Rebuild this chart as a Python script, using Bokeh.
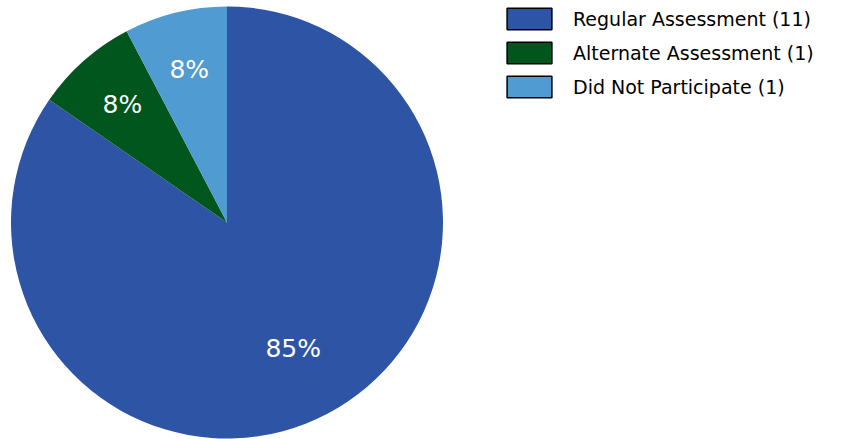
import math
from bokeh.plotting import figure
from bokeh.models import Range1d, ColumnDataSource, Legend, LegendItem
from bokeh.core.properties import value
from bokeh.embed import file_html
from bokeh.resources import INLINE

# ---- data ----
categories = ["Regular Assessment", "Alternate Assessment", "Did Not Participate"]
counts = [11, 1, 1]
colors = ["#2E54A5", "#00561C", "#519BD3"]

# ---- layout constants (pixels) ----
W, H = 848, 439
CX, CY = 226.5, H - 222.0
R = 216.0
label_frac = [0.66, 0.73, 0.73]

total = sum(counts)
starts, ends, mids, pcts = [], [], [], []
cum = 0
for c in counts:
    a0 = math.pi / 2 - 2 * math.pi * cum / total
    cum += c
    a1 = math.pi / 2 - 2 * math.pi * cum / total
    starts.append(a0)
    ends.append(a1)
    mids.append((a0 + a1) / 2)
    pcts.append(f"{round(100 * c / total)}%")

lx = [CX + f * R * math.cos(m) for f, m in zip(label_frac, mids)]
ly = [CY + f * R * math.sin(m) for f, m in zip(label_frac, mids)]

src = ColumnDataSource(dict(x=[CX] * len(counts), y=[CY] * len(counts),
                            start=starts, end=ends, color=colors))
lsrc = ColumnDataSource(dict(x=lx, y=ly, text=pcts))

p = figure(width=W, height=H, output_backend="svg", toolbar_location=None,
           x_range=Range1d(0, W), y_range=Range1d(0, H),
           min_border=0, outline_line_color=None)
p.margin = (0, 0, 0, 0)
p.axis.visible = False
p.grid.visible = False
p.background_fill_color = "white"
p.border_fill_color = "white"

p.wedge(x="x", y="y", radius=R, start_angle="start", end_angle="end",
        direction="clock", fill_color="color", line_color=None, source=src)

p.text(x="x", y="y", text="text", source=lsrc, text_color="white",
       text_font=value("DejaVu Sans"), text_font_size="25px",
       text_align="center", text_baseline="middle")

items = []
nan = float("nan")
for cat, cnt, col in zip(categories, counts, colors):
    r = p.rect(x=[nan], y=[nan], width=1, height=1, fill_color=col,
               line_color="black", line_width=1.5)
    items.append(LegendItem(label=f"{cat} ({cnt})", renderers=[r]))

legend = Legend(items=items, location=(501, 339), orientation="vertical",
                glyph_width=56, glyph_height=27, spacing=7, label_standoff=16,
                padding=0, margin=0, border_line_color=None,
                background_fill_alpha=0,
                label_text_font="DejaVu Sans", label_text_font_size="19px",
                label_text_color="black")
p.add_layout(legend, "center")

open("out.html", "w").write(file_html(p, INLINE))
